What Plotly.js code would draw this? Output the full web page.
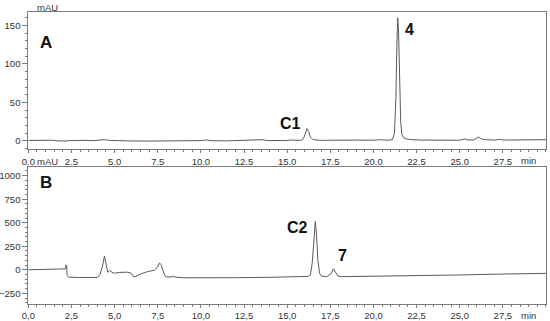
<!DOCTYPE html>
<html>
<head>
<meta charset="utf-8">
<script src="https://cdn.plot.ly/plotly-3.0.1.min.js"></script>
<style>
  html, body { margin: 0; padding: 0; background: #fff; }
  #plot { width: 550px; height: 321px; }
</style>
</head>
<body>
<div id="plot"></div>
<script>
// Chromatogram A
const tA = [0, 0.5, 1.0, 1.3, 1.6, 2.0, 2.6, 3.0, 3.4, 3.8, 4.2, 4.4, 4.7, 5.2, 6.0, 7.0, 8.0,
  9.0, 10.0, 10.3, 10.6, 11.5, 12.5, 13.4, 13.6, 13.8, 14.5, 15.0, 15.2, 15.5, 15.8, 15.95,
  16.05, 16.15, 16.25, 16.35, 16.5, 16.7, 17.0, 17.5, 18.0, 18.5, 18.8, 19.2, 20.0, 20.4,
  20.8, 21.1, 21.22, 21.3, 21.36, 21.41, 21.46, 21.52, 21.58, 21.65, 21.75, 21.9, 22.2,
  22.8, 23.5, 24.2, 25.0, 25.3, 25.5, 25.8, 26.0, 26.1, 26.25, 26.5, 27.0, 27.3, 27.6,
  28.0, 29.0, 30.0];
const yA = [0.5, 0.8, 1.2, 0.8, 0.2, -0.3, 0.5, 1.0, 0.6, 0.2, 1.2, 1.5, 0.6, 0.0, -0.2, -0.3, -0.2,
  0.0, 0.3, 1.2, 0.2, 0.0, 0.3, 0.5, 1.5, 0.4, 0.2, 0.5, 1.0, 0.5, 0.6, 3,
  10, 16, 12, 5, 1.5, 0.8, 0.6, 0.8, 1.0, 1.2, 1.8, 1.0, 0.8, 1.5,
  0.8, 1.5, 10, 55, 125, 160, 140, 75, 25, 8, 4, 2.5, 1.5,
  1.0, 0.8, 0.6, 0.8, 2.5, 1.0, 1.2, 3.5, 5, 2.5, 1.5, 1.0, 1.8, 1.0,
  1.0, 1.2, 1.5];

// Chromatogram B
const tB = [0, 1.0, 1.6, 2.1, 2.15, 2.18, 2.22, 2.25, 2.35, 3.0, 4.0, 4.15, 4.3, 4.41, 4.5,
  4.6, 4.68, 4.75, 4.85, 5.0, 5.3, 5.7, 5.95, 6.1, 6.2, 6.5, 6.9, 7.3, 7.5, 7.6, 7.7,
  7.8, 7.95, 8.2, 8.4, 8.6, 9.0, 10.0, 12.0, 14.0, 15.5, 16.2, 16.35, 16.45, 16.55,
  16.63, 16.7, 16.78, 16.88, 17.0, 17.3, 17.55, 17.68, 17.8, 17.95, 18.2, 20.0, 22.5,
  25.0, 27.5, 30.0];
const yB = [0, 2, 4, 8, 10, 53, 40, -60, -78, -82, -82, -50, 40, 145, 60,
  -25, -18, -5, -30, -35, -28, -25, -35, -75, -72, -45, -20, -5, 30, 72, 55,
  -10, -75, -78, -70, -80, -85, -86, -84, -80, -74, -70, -55, 70, 300,
  514, 380, 100, -40, -68, -72, -40, 10, -20, -68, -73, -70, -62,
  -55, -45, -38];

const xTicks = [0, 2.5, 5, 7.5, 10, 12.5, 15, 17.5, 20, 22.5, 25, 27.5];
const xTextA = ["0.0", "2.5", "5.0", "7.5", "10.0", "12.5", "15.0", "17.5", "20.0", "22.5", "25.0", "27.5"];
const xTextB = ["0,0", "2,5", "5,0", "7,5", "10,0", "12,5", "15,0", "17,5", "20,0", "22,5", "25,0", "27,5"];

const lineCol = "#5a5a5a";
const axCol = "#7a7a7a";
const tickFont = { family: "Liberation Sans, Arial, sans-serif", size: 9.5, color: "#333" };
const labFont = { family: "Liberation Sans, Arial, sans-serif", size: 16, color: "#111" };

const traces = [
  { x: tA, y: yA, type: "scatter", mode: "lines", line: { color: lineCol, width: 1 }, xaxis: "x", yaxis: "y" },
  { x: tB, y: yB, type: "scatter", mode: "lines", line: { color: lineCol, width: 1 }, xaxis: "x2", yaxis: "y2" },
];

function xAxis(anchor, text) {
  return {
    anchor: anchor, domain: [0.0515, 0.9927], range: [0, 30],
    tickvals: xTicks, ticktext: text, ticks: "outside", ticklen: 3, tickcolor: axCol,
    minor: { dtick: 0.5, ticks: "outside", ticklen: 2, tickcolor: axCol },
    showline: true, mirror: true, linecolor: axCol, linewidth: 1,
    showgrid: false, zeroline: false, tickfont: tickFont,
  };
}
function yAxis(anchor, dom, rng, dt, mdt) {
  return {
    anchor: anchor, domain: dom, range: rng, dtick: dt, tick0: 0,
    ticks: "outside", ticklen: 5, tickcolor: axCol,
    minor: { dtick: mdt, ticks: "outside", ticklen: 2, tickcolor: axCol },
    showline: true, mirror: true, linecolor: axCol, linewidth: 1,
    showgrid: false, zeroline: false, tickfont: tickFont,
  };
}

function lab(xref, yref, x, y, text, size) {
  return { xref: xref, yref: yref, x: x, y: y, text: "<b>" + text + "</b>", showarrow: false,
    font: Object.assign({}, labFont, size ? { size: size } : {}) };
}
function plain(x, y, text) {
  return { xref: "paper", yref: "paper", x: x, y: y, yanchor: "middle", text: text, showarrow: false, font: tickFont };
}

const layout = {
  width: 550, height: 321,
  margin: { l: 0, r: 0, t: 0, b: 0 },
  showlegend: false,
  paper_bgcolor: "#fff", plot_bgcolor: "#fff",
  xaxis: xAxis("y", xTextA),
  yaxis: yAxis("x", [0.5349, 0.9636], [-11, 168], 50, 10),
  xaxis2: xAxis("y2", xTextB),
  yaxis2: yAxis("x2", [0.054, 0.4788], [-360, 1089], 250, 50),
  annotations: [
    plain(35 / 550, 1 - 7 / 321, "mAU"),
    plain(35 / 550, 1 - 162 / 321, "mAU"),
    plain(538 / 550, 1 - 160 / 321, "min"),
    plain(538 / 550, 1 - 315 / 321, "min"),
    lab("paper", "paper", 38 / 550, 1 - 31 / 321, "A", 17),
    lab("paper", "paper", 38 / 550, 1 - 183 / 321, "B", 17),
    lab("x", "y", 15.2, 22, "C1"),
    lab("x", "y", 22.1, 145, "4"),
    lab("x2", "y2", 15.6, 450, "C2"),
    lab("x2", "y2", 18.2, 150, "7"),
  ],
};

Plotly.newPlot("plot", traces, layout, { displayModeBar: false, staticPlot: true });
</script>
</body>
</html>
